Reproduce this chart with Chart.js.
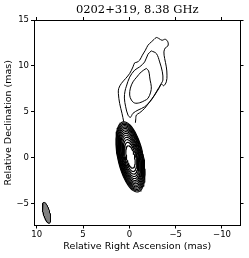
<!DOCTYPE html>
<html>
<head>
<meta charset="utf-8">
<script src="https://cdn.jsdelivr.net/npm/chart.js@4.4.0/dist/chart.umd.min.js"></script>
<style>
    html, body { margin: 0; padding: 0; background: #fff; }
    #wrap { width: 249px; height: 258px; }
</style>
</head>
<body>
<div id="wrap"><canvas id="mapChart" width="249" height="258"></canvas></div>
<script>
const titleText = '0202+319, 8.38 GHz';
const xLabel = 'Relative Right Ascension (mas)';
const yLabel = 'Relative Declination (mas)';
const xTicks = [10, 5, 0, -5, -10];
const yTicks = [15, 10, 5, 0, -5];
const xRange = [-12.0, 10.3];
const yRange = [-7.4, 15];

// jet contours, [RA, Dec] in mas
const jetOuter = [
    [0.61, 3.91], [0.80, 4.83], [1.05, 5.91], [1.19, 7.00], [1.15, 7.54], [0.86, 8.09],
    [0.40, 8.63], [-0.03, 9.17], [-0.39, 9.89], [-0.57, 10.33], [-0.82, 10.40], [-1.11, 10.62],
    [-1.40, 11.16], [-1.73, 11.71], [-2.01, 12.25], [-2.37, 12.61], [-2.65, 12.87], [-2.91, 13.09],
    [-3.19, 12.98], [-3.52, 12.79], [-3.88, 12.90], [-4.16, 12.61], [-4.16, 12.17], [-3.88, 11.96],
    [-3.73, 11.52], [-3.81, 10.80], [-3.99, 9.89], [-4.06, 8.99], [-3.99, 8.26], [-3.70, 7.83],
    [-3.48, 8.01], [-3.19, 7.54], [-2.73, 6.82], [-2.19, 6.09], [-1.65, 5.37], [-1.11, 4.89],
    [-0.76, 4.64], [-0.68, 4.10], [-0.65, 3.80]
];
const jetMiddle = [
    [-2.37, 11.63], [-2.91, 11.35], [-3.27, 10.43], [-3.56, 9.35], [-3.62, 8.45], [-3.45, 8.09],
    [-2.91, 7.17], [-2.37, 6.27], [-1.65, 5.54], [-0.93, 5.18], [-0.39, 4.83], [-0.11, 4.39],
    [0.15, 4.64], [0.40, 5.54], [0.54, 6.49], [0.47, 7.25], [0.32, 7.79], [-0.03, 8.77],
    [-0.57, 9.53], [-1.11, 9.89], [-1.65, 10.43], [-2.01, 11.27], [-2.37, 11.63]
];
const jetInner = [
    [-1.83, 9.72], [-1.29, 9.35], [-0.79, 8.77], [-0.39, 8.26], [-0.11, 7.58], [-0.03, 6.82],
    [-0.22, 6.27], [-0.57, 5.95], [-1.11, 5.98], [-1.65, 6.22], [-2.01, 6.46], [-2.30, 7.14],
    [-2.37, 7.72], [-2.24, 8.45], [-2.19, 8.80], [-2.08, 9.45], [-1.83, 9.72]
];

// core: semi-axes of the nested contours (mas), outer to inner
const coreMajor = [3.90, 3.76, 3.62, 3.47, 3.32, 3.16, 2.99, 2.81, 2.62, 2.41, 2.18, 1.92, 1.62, 1.25];
const coreMinor = [1.38, 1.33, 1.28, 1.23, 1.17, 1.12, 1.06, 0.99, 0.93, 0.85, 0.77, 0.68, 0.57, 0.44];
const coreCenter = [-0.12, 0.08];
const corePA = 12;

// restoring beam
const beamCenter = [8.95, -6.02];
const beamAxes = [1.17, 0.36];
const beamPA = 14;

function ellipse(c, a, b, paDeg) {
    const pa = paDeg * Math.PI / 180;
    const pts = [];
    for (let i = 0; i <= 72; i++) {
        const t = i / 72 * 2 * Math.PI;
        const u = a * Math.cos(t), v = b * Math.sin(t);
        pts.push({ x: c[0] + u * Math.sin(pa) + v * Math.cos(pa), y: c[1] + u * Math.cos(pa) - v * Math.sin(pa) });
    }
    return pts;
}

function toPoints(arr) {
    return arr.map(p => ({ x: p[0], y: p[1] }));
}

const lineStyle = { showLine: true, pointRadius: 0, borderColor: '#000', borderWidth: 1, fill: false };

const datasets = [];
[jetOuter, jetMiddle, jetInner].forEach(c => {
    datasets.push(Object.assign({ data: toPoints(c), tension: 0.35 }, lineStyle));
});
coreMajor.forEach((a, i) => {
    datasets.push(Object.assign({ data: ellipse(coreCenter, a, coreMinor[i], corePA), tension: 0 }, lineStyle, { borderWidth: 1.1 }));
});
datasets.push({
    data: ellipse(beamCenter, beamAxes[0], beamAxes[1], beamPA),
    showLine: true, pointRadius: 0, borderColor: '#000', borderWidth: 1,
    backgroundColor: '#808080', fill: 'shape', tension: 0
});

const titlePlugin = {
    id: 'mapTitle',
    afterDraw(chart) {
        const ctx = chart.ctx;
        ctx.save();
        ctx.font = '11.5px "DejaVu Serif"';
        ctx.fillStyle = '#000';
        ctx.textAlign = 'center';
        ctx.textBaseline = 'middle';
        ctx.fillText(titleText, (chart.chartArea.left + chart.chartArea.right) / 2, 10.5);
        ctx.restore();
    }
};

const minus = v => String(v).replace('-', '\u2212');
const tickFont = { family: 'DejaVu Sans', size: 8.5 };
const titleFont = { family: 'DejaVu Sans', size: 9.5 };
const grid = { drawOnChartArea: false, drawTicks: true, tickLength: 3, color: '#000' };
const border = { display: true, color: '#000', width: 1 };

const ctx = document.getElementById('mapChart').getContext('2d');
new Chart(ctx, {
    type: 'scatter',
    data: { datasets: datasets },
    options: {
        responsive: false,
        animation: false,
        layout: { padding: { top: 16.5, right: 5, left: 0, bottom: 0 } },
        plugins: { legend: { display: false }, tooltip: { enabled: false } },
        scales: {
            x: {
                type: 'linear', position: 'bottom', reverse: true, min: xRange[0], max: xRange[1],
                afterBuildTicks: s => { s.ticks = xTicks.map(v => ({ value: v })); },
                afterFit: s => { s.height = 32.5; },
                grid: grid, border: border,
                ticks: { font: tickFont, color: '#000', padding: 1, maxRotation: 0, autoSkip: false, callback: minus },
                title: { display: true, text: xLabel, font: titleFont, color: '#000', padding: { top: 0, bottom: 6 } }
            },
            x2: {
                type: 'linear', position: 'top', reverse: true, min: xRange[0], max: xRange[1],
                afterBuildTicks: s => { s.ticks = xTicks.map(v => ({ value: v })); },
                afterFit: s => { s.height = 3.5; },
                grid: grid, border: border,
                ticks: { display: false }
            },
            y: {
                type: 'linear', position: 'left', min: yRange[0], max: yRange[1],
                afterBuildTicks: s => { s.ticks = yTicks.map(v => ({ value: v })); },
                afterFit: s => { s.width = 34; },
                grid: grid, border: border,
                ticks: { font: tickFont, color: '#000', padding: 2, autoSkip: false, callback: minus },
                title: { display: true, text: yLabel, font: titleFont, color: '#000', padding: { top: 3, bottom: 0 } }
            },
            y2: {
                type: 'linear', position: 'right', min: yRange[0], max: yRange[1],
                afterBuildTicks: s => { s.ticks = yTicks.map(v => ({ value: v })); },
                afterFit: s => { s.width = 3.5; },
                grid: grid, border: border,
                ticks: { display: false }
            }
        }
    },
    plugins: [titlePlugin]
});
</script>
</body>
</html>
